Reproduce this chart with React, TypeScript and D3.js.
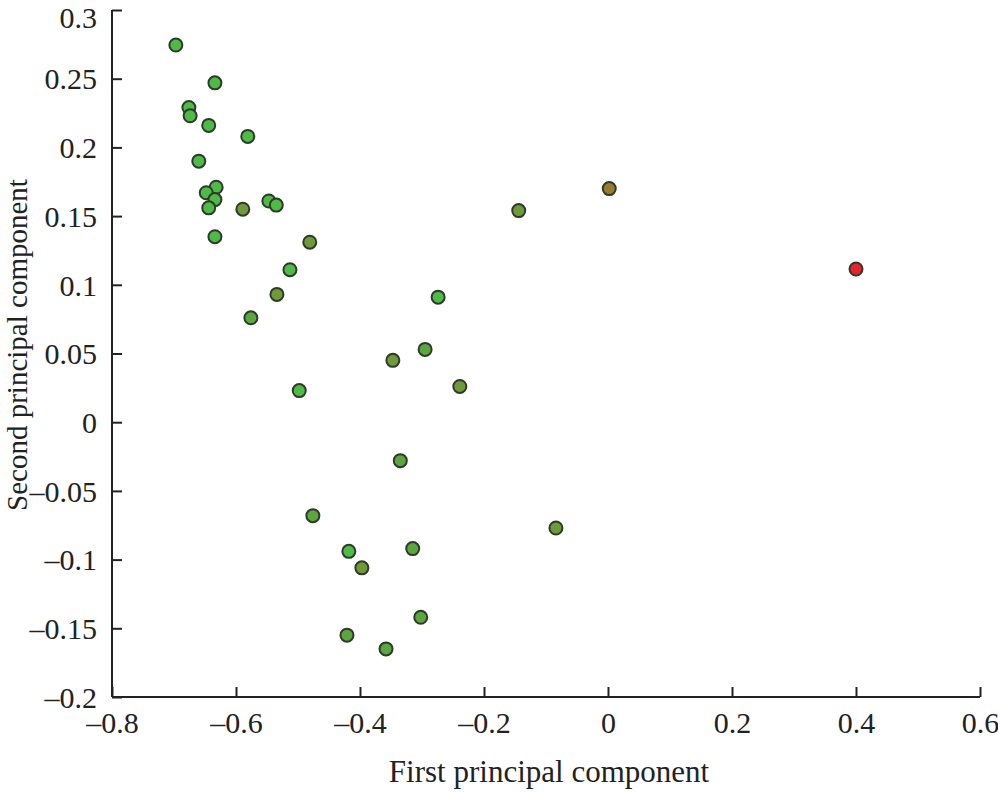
import { useEffect, useRef } from "react"
import * as d3 from "d3"

// principal component scores
const pc1 = [
  -0.697, -0.634, -0.676, -0.674, -0.644, -0.581, -0.660, -0.632, -0.648, -0.634,
  -0.644, -0.589, -0.547, -0.535, -0.634, -0.481, -0.513, -0.534, -0.576, -0.498,
  -0.274, -0.347, -0.295, -0.239, -0.144, 0.002, 0.400, -0.335, -0.476, -0.084,
  -0.418, -0.397, -0.315, -0.302, -0.421, -0.358,
]
const pc2 = [
  0.2745, 0.247, 0.229, 0.223, 0.216, 0.208, 0.190, 0.171, 0.167, 0.162,
  0.156, 0.155, 0.161, 0.158, 0.135, 0.131, 0.111, 0.093, 0.076, 0.023,
  0.091, 0.045, 0.053, 0.026, 0.154, 0.170, 0.1115, -0.028, -0.068, -0.077,
  -0.094, -0.106, -0.092, -0.142, -0.155, -0.165,
]
// colour class of each sample
const group = [
  "A", "A", "A", "A", "A", "A", "A", "A", "A", "A",
  "A", "C", "A", "A", "A", "C", "A", "C", "B", "A",
  "A", "C", "B", "C", "C", "D", "E", "B", "B", "C",
  "A", "C", "B", "B", "B", "B",
]
const groups = ["A", "B", "C", "D", "E"]
const groupColors = ["#4dbb45", "#5aa73e", "#6f9a38", "#9a7a2e", "#e8232a"]

const xTicks = [-0.8, -0.6, -0.4, -0.2, 0, 0.2, 0.4, 0.6]
const yTicks = [-0.2, -0.15, -0.1, -0.05, 0, 0.05, 0.1, 0.15, 0.2, 0.25, 0.3]

const W = 998
const H = 792
const margin = { left: 112, right: 18, top: 10, bottom: 95 }
const font = "'Liberation Serif', 'Times New Roman', serif"

const fmt = (d: number) => (d < 0 ? "\u2013" + String(-d) : String(d))

export default function App() {
  const svgRef = useRef<SVGSVGElement>(null)

  useEffect(() => {
    const svg = d3.select(svgRef.current)
    svg.selectAll("*").remove()

    const x = d3.scaleLinear().domain([-0.8, 0.6]).range([margin.left, W - margin.right])
    const y = d3.scaleLinear().domain([-0.2, 0.3]).range([H - margin.bottom, margin.top])
    const color = d3.scaleOrdinal<string, string>().domain(groups).range(groupColors)

    // axes, ticks pointing inward
    const xAxis = d3.axisBottom(x).tickValues(xTicks).tickSize(-10).tickPadding(16)
      .tickFormat((d) => fmt(+d))
    const yAxis = d3.axisLeft(y).tickValues(yTicks).tickSize(-10).tickPadding(15)
      .tickFormat((d) => fmt(+d))

    const gx = svg.append("g")
      .attr("transform", `translate(0,${H - margin.bottom})`)
      .call(xAxis)
    const gy = svg.append("g")
      .attr("transform", `translate(${margin.left},0)`)
      .call(yAxis)

    for (const g of [gx, gy]) {
      g.select(".domain").attr("stroke", "#222").attr("stroke-width", 2)
        .attr("d", g === gx
          ? `M${margin.left},0H${W - margin.right}`
          : `M0,${margin.top}V${H - margin.bottom}`)
      g.selectAll(".tick line").attr("stroke", "#222").attr("stroke-width", 2)
      g.selectAll(".tick text")
        .attr("fill", "#222")
        .style("font-family", font)
        .style("font-size", "30px")
    }
    gx.selectAll(".tick text").attr("dy", "0.68em")
    gy.selectAll(".tick text").attr("dy", "0.34em")
    // keep the top label inside the page
    gy.selectAll<SVGTextElement, number>(".tick text")
      .filter((d) => d === 0.3)
      .attr("dy", "0.57em")

    // points
    svg.append("g")
      .selectAll("circle")
      .data(pc1.map((v, i) => ({ x: v, y: pc2[i], g: group[i] })))
      .join("circle")
      .attr("cx", (d) => x(d.x))
      .attr("cy", (d) => y(d.y))
      .attr("r", 6.5)
      .attr("fill", (d) => color(d.g))
      .attr("stroke", "#2e3a2c")
      .attr("stroke-width", 2)

    // axis titles
    svg.append("text")
      .attr("x", 549)
      .attr("y", 782)
      .attr("text-anchor", "middle")
      .attr("fill", "#222")
      .style("font-family", font)
      .style("font-size", "31px")
      .text("First principal component")

    svg.append("text")
      .attr("transform", `translate(27,345) rotate(-90)`)
      .attr("text-anchor", "middle")
      .attr("fill", "#222")
      .style("font-family", font)
      .style("font-size", "29px")
      .text("Second principal component")
  }, [])

  return (
    <svg
      ref={svgRef}
      width={W}
      height={H}
      style={{ position: "absolute", left: 0, top: 0, background: "#fff" }}
    />
  )
}
